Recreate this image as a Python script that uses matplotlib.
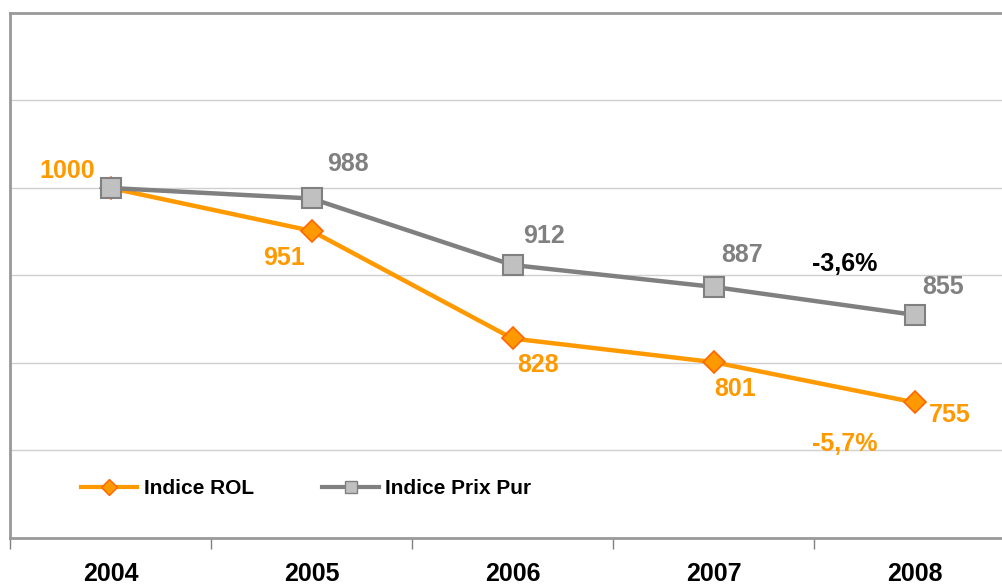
import matplotlib
matplotlib.use("Agg")
import matplotlib.pyplot as plt
from matplotlib.lines import Line2D

years = ["2004", "2005", "2006", "2007", "2008"]
indice_rol = [1000, 951, 828, 801, 755]
indice_prix = [1000, 988, 912, 887, 855]
var_rol = "-5,7%"
var_prix = "-3,6%"

# label offsets in pixels (dx, dy) from each point
rol_offsets = [(-43, 17), (-27, -27), (26, -27), (22, -27), (35, -13)]
prix_offsets = [None, (36, 34), (32, 29), (29, 32), (29, 28)]

ORANGE = "#FF9900"
ORANGE_EDGE = "#FF6600"
GREY = "#808080"
GREY_FILL = "#C0C0C0"

plt.rcParams["font.family"] = ["Liberation Sans", "DejaVu Sans"]
plt.rcParams["font.weight"] = "bold"

fig = plt.figure(figsize=(10.02, 5.86), dpi=100)
ax = fig.add_axes([10 / 1002, 48 / 586, 1005 / 1002, 525 / 586])

x = list(range(len(years)))
ax.plot(x, indice_rol, color=ORANGE, lw=3.2, marker="D", ms=11.5,
        mfc=ORANGE, mec=ORANGE_EDGE, mew=1.2, zorder=3)
ax.plot(x, indice_prix, color=GREY, lw=3.2, marker="s", ms=14,
        mfc=GREY_FILL, mec=GREY, mew=1.5, zorder=4)

for xi, v, off in zip(x, indice_rol, rol_offsets):
    ax.annotate(str(v), (xi, v), xytext=off, textcoords="offset pixels",
                ha="center", va="center", color=ORANGE, fontsize=18,
                fontweight="bold", zorder=5)
for xi, v, off in zip(x, indice_prix, prix_offsets):
    if off is None:
        continue
    ax.annotate(str(v), (xi, v), xytext=off, textcoords="offset pixels",
                ha="center", va="center", color=GREY, fontsize=18,
                fontweight="bold", zorder=5)

ax.annotate(var_prix, (x[-1], indice_prix[-1]), xytext=(-70, 51),
            textcoords="offset pixels", ha="center", va="center",
            color="black", fontsize=18, fontweight="bold")
ax.annotate(var_rol, (x[-1], indice_rol[-1]), xytext=(-70, -42),
            textcoords="offset pixels", ha="center", va="center",
            color=ORANGE, fontsize=18, fontweight="bold")

ax.set_xlim(-0.5, len(years) - 0.5)
ax.set_ylim(600, 1200)
ax.set_yticks([700, 800, 900, 1000, 1100])
ax.yaxis.grid(True, color="#D0D0D0", lw=1)
ax.tick_params(axis="y", left=False, labelleft=False)
ax.set_axisbelow(True)

ax.set_xticks(x)
ax.set_xticklabels(years, fontsize=18, fontweight="bold")
ax.set_xticks([i - 0.5 for i in range(len(years) + 1)], minor=True)
ax.tick_params(axis="x", which="major", length=0, pad=17)
ax.tick_params(axis="x", which="minor", length=8, width=1, color=GREY,
               direction="out")

for s in ax.spines.values():
    s.set_color("#999999")
    s.set_linewidth(2)

handles = [
    Line2D([], [], color=ORANGE, lw=3, marker="D", ms=8, mfc=ORANGE,
           mec=ORANGE_EDGE, mew=1),
    Line2D([], [], color=GREY, lw=3, marker="s", ms=8, mfc=GREY_FILL,
           mec=GREY, mew=1),
]
fig.legend(handles, ["Indice ROL", "Indice Prix Pur"], ncol=2,
           loc="center left", bbox_to_anchor=(81 / 1002, 1 - 489 / 586),
           frameon=False, handlelength=2.7, handletextpad=0.3,
           columnspacing=3.3, borderpad=0, borderaxespad=0,
           prop={"weight": "bold", "size": 15})

fig.savefig("out.png", dpi=100)
